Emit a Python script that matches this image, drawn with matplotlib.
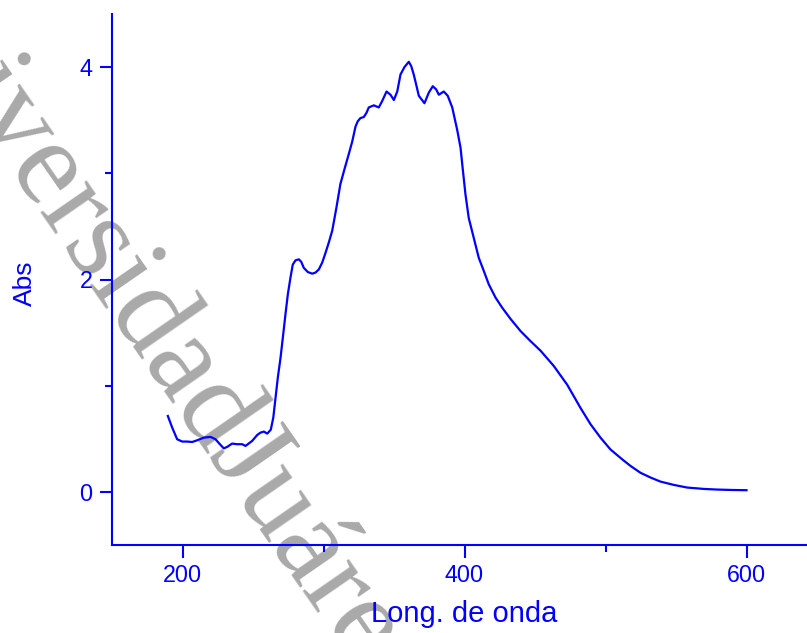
import matplotlib
matplotlib.use("Agg")
import matplotlib.pyplot as plt
from matplotlib.ticker import MultipleLocator

# Absorption spectrum (wavelength in nm, absorbance)
wavelength = [189.6, 192.7, 196.2, 199.8, 203.3, 206.9, 210.4, 215.1, 219.9, 223.4,
              226.5, 229.3, 231.7, 235.2, 238.8, 242.3, 244.7, 249.4, 253.0, 255.3,
              257.7, 260.1, 262.6, 264.4, 266.0, 267.6, 269.5, 271.4, 273.0, 274.7,
              276.6, 278.2, 280.1, 282.5, 284.2, 286.0, 288.9, 292.0, 294.3, 296.7,
              299.1, 301.4, 303.8, 306.2, 309.2, 312.0, 314.9, 317.9, 320.4, 322.7,
              324.3, 326.2, 328.6, 330.5, 332.1, 335.7, 339.2, 341.6, 344.7, 347.5,
              349.9, 352.3, 354.6, 357.4, 360.5, 362.2, 364.0, 366.0, 367.6, 369.3,
              371.6, 374.7, 377.5, 379.9, 381.8, 385.3, 388.1, 391.3, 394.8, 397.2,
              398.6, 400.7, 403.0, 406.6, 410.1, 413.7, 417.2, 422.0, 426.7, 432.6,
              439.7, 446.8, 453.9, 463.3, 472.8, 482.3, 489.4, 496.5, 503.5, 511.8,
              517.7, 524.8, 532.0, 539.0, 548.4, 557.9, 569.7, 579.2, 590.0, 600.0]
absorbance = [0.715, 0.605, 0.496, 0.474, 0.474, 0.470, 0.486, 0.511, 0.518, 0.496,
              0.449, 0.410, 0.424, 0.455, 0.449, 0.449, 0.433, 0.480, 0.536, 0.558,
              0.568, 0.549, 0.585, 0.700, 0.888, 1.076, 1.260, 1.480, 1.670, 1.860,
              2.020, 2.140, 2.180, 2.190, 2.167, 2.110, 2.070, 2.055, 2.065, 2.095,
              2.160, 2.250, 2.350, 2.460, 2.680, 2.900, 3.040, 3.180, 3.300, 3.440,
              3.490, 3.520, 3.530, 3.570, 3.620, 3.640, 3.620, 3.680, 3.770, 3.740,
              3.690, 3.770, 3.930, 4.000, 4.050, 4.010, 3.930, 3.820, 3.730, 3.700,
              3.660, 3.760, 3.820, 3.790, 3.740, 3.770, 3.730, 3.620, 3.410, 3.240,
              3.060, 2.800, 2.580, 2.390, 2.205, 2.080, 1.955, 1.830, 1.735, 1.630,
              1.515, 1.420, 1.330, 1.186, 1.010, 0.790, 0.637, 0.510, 0.400, 0.307,
              0.245, 0.180, 0.135, 0.097, 0.066, 0.041, 0.028, 0.022, 0.018, 0.016]

x_ticks = [200, 400, 600]
y_ticks = [0, 2, 4]

BLUE = "#0000ff"
W, H = 807, 633

plt.rcParams["font.family"] = ["Liberation Sans", "DejaVu Sans"]
fig = plt.figure(figsize=(W / 100, H / 100), dpi=100)

# watermark behind the plot
fig.text(-133.0 / W, 1 + 32.8 / H, "UniversidadJuárez", rotation=-55.3,
         rotation_mode="anchor", ha="left", va="baseline",
         family=["Liberation Serif", "DejaVu Serif"], fontsize=87.8,
         color="#a9a9a9", zorder=-1)

left, bottom, top = 112 / W, (H - 545) / H, (H - 14) / H
xmin, xmax = 150, 650
width = (xmax - xmin) * (282 / 200) / W
ax = fig.add_axes([left, bottom, width, top - bottom])
ax.patch.set_visible(False)

ax.plot(wavelength, absorbance, color=BLUE, lw=1.6, solid_joinstyle="round")
ax.set_xlim(xmin, xmax)
ax.set_ylim(-0.5, 4.5)

for s in ("top", "right"):
    ax.spines[s].set_visible(False)
for s in ("left", "bottom"):
    ax.spines[s].set_color(BLUE)
    ax.spines[s].set_linewidth(1.5)

ax.set_xticks(x_ticks)
ax.set_yticks(y_ticks)
ax.xaxis.set_minor_locator(MultipleLocator(100))
ax.yaxis.set_minor_locator(MultipleLocator(1))
ax.tick_params(which="major", direction="out", length=9, width=1.5,
               colors=BLUE, labelsize=16.8, pad=5)
ax.tick_params(which="minor", direction="out", length=5, width=1.5,
               colors=BLUE)

fig.text(464 / W, 1 - 614 / H, "Long. de onda", color=BLUE, fontsize=21,
         ha="center", va="center")
fig.text(25 / W, 1 - 283 / H, "Abs", color=BLUE, fontsize=19, rotation=90,
         ha="center", va="center")

fig.savefig("out.png", dpi=100)
